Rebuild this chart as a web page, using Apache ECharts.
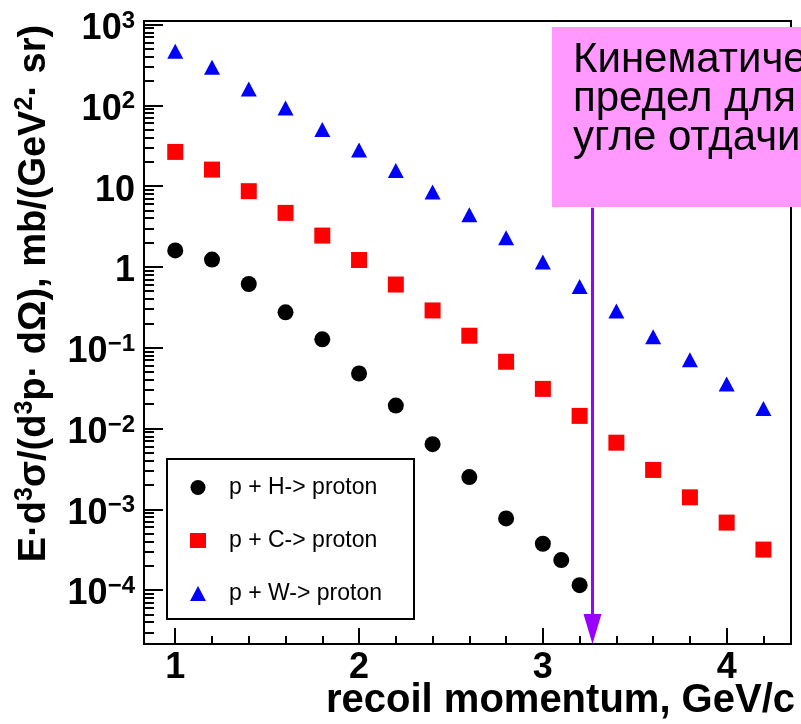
<!DOCTYPE html>
<html>
<head>
<meta charset="utf-8">
<script src="https://cdn.jsdelivr.net/npm/echarts@6/dist/echarts.min.js"></script>
<style>
  html, body { margin: 0; padding: 0; background: #ffffff; }
  #chart { width: 801px; height: 724px; }
</style>
</head>
<body>
<div id="chart"></div>
<script>
// Invariant proton cross sections vs recoil momentum
const hMomentum = [1.0, 1.2, 1.4, 1.6, 1.8, 2.0, 2.2, 2.4, 2.6, 2.8, 3.0, 3.1, 3.2];
const hYield = [1.60, 1.23, 0.614, 0.274, 0.127, 0.0479, 0.0192, 0.0064, 0.0025, 0.000771, 0.000374, 0.000235, 0.000115];

const cMomentum = [1.0, 1.2, 1.4, 1.6, 1.8, 2.0, 2.2, 2.4, 2.6, 2.8, 3.0, 3.2, 3.4, 3.6, 3.8, 4.0, 4.2];
const cYield = [26.5, 16.0, 8.65, 4.66, 2.44, 1.216, 0.605, 0.289, 0.1406, 0.067, 0.0309, 0.01432, 0.00667, 0.00307, 0.001406, 0.000684, 0.000317];

const wMomentum = [1.0, 1.2, 1.4, 1.6, 1.8, 2.0, 2.2, 2.4, 2.6, 2.8, 3.0, 3.2, 3.4, 3.6, 3.8, 4.0, 4.2];
const wYield = [467, 296, 159, 92.7, 50.0, 28.0, 15.6, 8.48, 4.41, 2.29, 1.146, 0.572, 0.284, 0.1365, 0.0709, 0.0355, 0.0177];

const seriesNames = ['p + H-> proton', 'p + C-> proton', 'p + W-> proton'];

// kinematic limit marker: momentum and the value where the arrow starts
const kinematicLimit = 3.27;
const arrowTopValue = 5.4;

const xRange = [0.83, 4.35];
const yRange = [2.15e-5, 1105];

const xTitle = 'recoil momentum, GeV/c';
const yTitle = 'E\u00b7d{sup|3}\u03c3/(d{sup|3}p\u00b7 d\u03a9), mb/(GeV{sup|2}\u00b7 sr)';
const noteText = 'Кинематический\nпредел для\nугле отдачи';

const FONT = 'Liberation Sans';

function pairs(xs, ys) { return xs.map((x, i) => [x, ys[i]]); }

function powerLabel(v) {
  const lg = Math.log10(v);
  const e = Math.round(lg);
  if (Math.abs(lg - e) > 1e-6) return '';
  if (e === 0) return '1';
  if (e === 1) return '10';
  return '10{sup|' + (e < 0 ? '\u2212' + (-e) : String(e)) + '}';
}

const chart = echarts.init(document.getElementById('chart'), null, { renderer: 'canvas' });

const option = {
  animation: false,
  backgroundColor: '#ffffff',
  textStyle: { fontFamily: FONT },
  grid: {
    left: 144, right: 10, top: 21, bottom: 80,
    containLabel: false, outerBoundsMode: 'none',
    show: true, borderColor: '#000', borderWidth: 2, backgroundColor: 'transparent'
  },
  xAxis: {
    type: 'value',
    min: xRange[0], max: xRange[1],
    splitNumber: 4,
    axisLine: { show: true, lineStyle: { color: '#000', width: 2 } },
    axisTick: { show: true, inside: true, length: 16, lineStyle: { color: '#000', width: 2 } },
    minorTick: { show: true, splitNumber: 5, length: 8, lineStyle: { color: '#000', width: 2 } },
    splitLine: { show: false },
    axisLabel: {
      margin: 6, fontFamily: FONT, fontWeight: 'bold', fontSize: 36, color: '#000',
      formatter: v => (Math.abs(v - Math.round(v)) < 1e-9 ? String(Math.round(v)) : '')
    }
  },
  yAxis: {
    type: 'log',
    logBase: 10,
    min: yRange[0], max: yRange[1],
    splitNumber: 8,
    name: yTitle,
    nameLocation: 'middle',
    nameGap: 104,
    nameTextStyle: {
      fontFamily: FONT, fontWeight: 'bold', fontSize: 38, color: '#000', lineHeight: 44,
      verticalAlign: 'middle', padding: [0, 0, 0, 78],
      rich: { sup: { fontFamily: FONT, fontWeight: 'bold', fontSize: 25, color: '#000', verticalAlign: 'top', lineHeight: 25 } }
    },
    axisLine: { show: true, lineStyle: { color: '#000', width: 2 } },
    axisTick: { show: true, inside: true, length: 19, lineStyle: { color: '#000', width: 2 } },
    minorTick: { show: true, splitNumber: 9, length: 10, lineStyle: { color: '#000', width: 2 } },
    splitLine: { show: false },
    axisLabel: {
      margin: 9, fontFamily: FONT, fontWeight: 'bold', fontSize: 36, color: '#000',
      lineHeight: 40, padding: [9, 0, 0, 0],
      formatter: powerLabel,
      rich: { sup: { fontFamily: FONT, fontWeight: 'bold', fontSize: 24, color: '#000', verticalAlign: 'top', lineHeight: 24 } }
    }
  },
  legend: {
    orient: 'vertical',
    left: 167, top: 459,
    itemWidth: 16, itemHeight: 15, itemGap: 30,
    symbolKeepAspect: true,
    padding: [17, 18, 14, 23],
    borderColor: '#000', borderWidth: 2, backgroundColor: '#fff',
    selectedMode: false,
    textStyle: { fontFamily: FONT, fontSize: 23, color: '#000', width: 167, lineHeight: 22, padding: [0, 0, 0, 18] },
    data: [
      { name: seriesNames[0], icon: 'circle' },
      { name: seriesNames[1], icon: 'rect' },
      { name: seriesNames[2], icon: 'triangle' }
    ]
  },
  series: [
    {
      name: seriesNames[0], type: 'scatter', symbol: 'circle', symbolSize: 16,
      itemStyle: { color: '#000000', opacity: 1 }, data: pairs(hMomentum, hYield)
    },
    {
      name: seriesNames[1], type: 'scatter', symbol: 'rect', symbolSize: 16,
      itemStyle: { color: '#ff0000', opacity: 1 }, data: pairs(cMomentum, cYield)
    },
    {
      name: seriesNames[2], type: 'scatter', symbol: 'triangle', symbolSize: [16, 15],
      itemStyle: { color: '#0000ff', opacity: 1 }, data: pairs(wMomentum, wYield)
    },
    {
      // arrow marking the kinematic limit, running down to the momentum axis
      name: 'limit', type: 'custom', silent: true, clip: false, z: 5,
      data: [[kinematicLimit, arrowTopValue]],
      renderItem: function (params, api) {
        const top = api.coord([api.value(0), api.value(1)]);
        const bottom = api.coord([api.value(0), yRange[0]]);
        const head = 30, half = 9;
        return {
          type: 'group',
          children: [
            { type: 'line', shape: { x1: top[0], y1: top[1], x2: bottom[0], y2: bottom[1] - head + 2 },
              style: { stroke: '#9900ff', lineWidth: 3 } },
            { type: 'polygon', shape: { points: [[bottom[0] - half, bottom[1] - head], [bottom[0] + half, bottom[1] - head], [bottom[0], bottom[1]]] },
              style: { fill: '#9900ff' } }
          ]
        };
      }
    }
  ],
  graphic: [
    {
      // momentum axis title, right-aligned under the axis end
      type: 'text', x: 795, y: 701, z: 50,
      style: { text: xTitle, fontFamily: FONT, fontWeight: 'bold', fontSize: 40, fill: '#000',
               align: 'right', verticalAlign: 'middle' }
    },
    {
      type: 'group', z: 100,
      children: [
        { type: 'rect', shape: { x: 552, y: 27, width: 270, height: 180 }, style: { fill: '#ff99ff' } },
        { type: 'text', x: 573, y: 41,
          style: { text: noteText, fontFamily: FONT, fontSize: 42,
                   lineHeight: 39, fill: '#000', align: 'left', verticalAlign: 'top' } }
      ]
    }
  ]
};

chart.setOption(option);
</script>
</body>
</html>
